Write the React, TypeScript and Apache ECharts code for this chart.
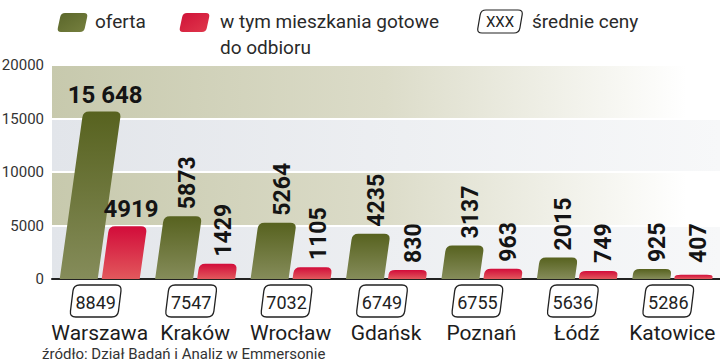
import React, { useEffect, useRef } from "react";
import * as echarts from "echarts";

const cities = ["Warszawa", "Kraków", "Wrocław", "Gdańsk", "Poznań", "Łódź", "Katowice"];
const offers = [15648, 5873, 5264, 4235, 3137, 2015, 925];
const readyFlats = [4919, 1429, 1105, 830, 963, 749, 407];
const avgPrices = [8849, 7547, 7032, 6749, 6755, 5636, 5286];
const yMin = 0;
const yMax = 20000;
const yInterval = 5000;
const legendOffer = "oferta";
const legendReady = ["w tym mieszkania gotowe", "do odbioru"];
const legendBoxSample = "XXX";
const legendPrice = "średnie ceny";
const sourceText = "źródło: Dział Badań i Analiz w Emmersonie";

const FONT = "Roboto, 'Liberation Sans', sans-serif";
const BAR_W = 38;
const HALF_GAP = 2;
const SKEW = 0.14;

function f(n: number) {
  return Math.round(n * 100) / 100;
}

function roundedPolyPath(pts: number[][], radii: number[]): string {
  const n = pts.length;
  let d = "";
  for (let i = 0; i < n; i++) {
    const p = pts[i];
    const prev = pts[(i - 1 + n) % n];
    const next = pts[(i + 1) % n];
    const r = radii[i];
    if (r <= 0) {
      d += (i === 0 ? "M" : "L") + f(p[0]) + " " + f(p[1]) + " ";
      continue;
    }
    const v1x = prev[0] - p[0], v1y = prev[1] - p[1];
    const l1 = Math.hypot(v1x, v1y) || 1;
    const v2x = next[0] - p[0], v2y = next[1] - p[1];
    const l2 = Math.hypot(v2x, v2y) || 1;
    const r1 = Math.min(r, l1 / 2), r2 = Math.min(r, l2 / 2);
    const ax = p[0] + (v1x / l1) * r1, ay = p[1] + (v1y / l1) * r1;
    const bx = p[0] + (v2x / l2) * r2, by = p[1] + (v2y / l2) * r2;
    d += (i === 0 ? "M" : "L") + f(ax) + " " + f(ay) + " Q" + f(p[0]) + " " + f(p[1]) + " " + f(bx) + " " + f(by) + " ";
  }
  return d + "Z";
}

function skewBox(x0: number, yb: number, w: number, h: number, s: number, radii: number[]) {
  return roundedPolyPath(
    [
      [x0, yb],
      [x0 + w, yb],
      [x0 + w + s, yb - h],
      [x0 + s, yb - h],
    ],
    radii
  );
}

echarts.graphic.registerShape(
  "legendSwatch",
  echarts.graphic.extendPath(skewBox(0, 19, 27, 19, 4, [4, 4, 4, 4]), {})
);
echarts.graphic.registerShape(
  "legendPriceBox",
  echarts.graphic.extendPath(skewBox(0, 23, 42, 23, 4, [5, 5, 5, 5]), {})
);

const greenGrad = () =>
  new echarts.graphic.LinearGradient(0, 0, 0, 1, [
    { offset: 0, color: "#57621f" },
    { offset: 1, color: "#858c5a" },
  ]);
const redGrad = () =>
  new echarts.graphic.LinearGradient(0, 0, 0, 1, [
    { offset: 0, color: "#d20c3a" },
    { offset: 1, color: "#e2585c" },
  ]);

function fmtValue(v: number) {
  return v >= 10000 ? String(v).replace(/\B(?=(\d{3})+(?!\d))/g, " ") : String(v);
}

function barRender(side: number, fill: () => any) {
  return (params: any, api: any) => {
    const idx = api.value(0);
    const val = api.value(1);
    const base = api.coord([idx, 0]);
    const top = api.coord([idx, val]);
    const cx = base[0] + side * (BAR_W / 2 + HALF_GAP);
    const h = base[1] - top[1];
    const s = h * SKEW;
    const x0 = cx - BAR_W / 2;
    const d = skewBox(x0, base[1], BAR_W, h, s, [0, 0, 6, 6]);
    const tcx = cx + s;
    const text = fmtValue(val);
    const labelStyle = {
      text,
      fill: "#141414",
      fontFamily: FONT,
      fontWeight: "bold",
    };
    const label =
      idx === 0
        ? {
            type: "text",
            x: tcx + 3,
            y: top[1] - 5,
            style: { ...labelStyle, fontSize: 24, align: "center", verticalAlign: "bottom" },
          }
        : {
            type: "text",
            x: tcx + 5,
            y: Math.min(top[1] - 7, base[1] - 16),
            rotation: Math.PI / 2,
            style: { ...labelStyle, fontSize: 23, align: "left", verticalAlign: "middle" },
          };
    return {
      type: "group",
      children: [{ type: "path", shape: { pathData: d }, style: { fill: fill() } }, label],
    };
  };
}

function priceRender(params: any, api: any) {
  const idx = api.value(0);
  const p = api.value(2);
  const base = api.coord([idx, 0]);
  const cx = base[0] - 4;
  const yt = base[1] + 6;
  const w = 48;
  const h = 32;
  const s = 4;
  const x0 = cx - w / 2 - s / 2;
  const d = skewBox(x0, yt + h, w, h, s, [6, 6, 6, 6]);
  return {
    type: "group",
    children: [
      { type: "path", shape: { pathData: d }, style: { fill: "#fff", stroke: "#222", lineWidth: 1.3 } },
      {
        type: "text",
        x: cx,
        y: yt + h / 2 + 1,
        style: {
          text: String(p),
          fill: "#222",
          fontSize: 18,
          fontFamily: FONT,
          align: "center",
          verticalAlign: "middle",
        },
      },
    ],
  };
}

export default function App() {
  const ref = useRef<HTMLDivElement>(null);
  useEffect(() => {
    if (!ref.current) return;
    const chart = echarts.init(ref.current, null, { renderer: "svg" });
    const oliveBand = new echarts.graphic.LinearGradient(0, 0, 1, 0, [
      { offset: 0, color: "#c7c9ad" },
      { offset: 0.5, color: "#dcdcc9" },
      { offset: 0.95, color: "#ffffff" },
      { offset: 1, color: "#ffffff" },
    ]);
    const grayBand = new echarts.graphic.LinearGradient(0, 0, 1, 0, [
      { offset: 0, color: "#e2e5ea" },
      { offset: 1, color: "#f7f8f9" },
    ]);
    const legendText = { fontSize: 19, fill: "#2a2a2a", fontFamily: FONT, verticalAlign: "middle" };
    const option: any = {
      animation: false,
      textStyle: { fontFamily: FONT },
      grid: { left: 52, right: 0, top: 65, bottom: 84, containLabel: false, outerBoundsMode: "none" },
      xAxis: {
        type: "category",
        data: cities,
        axisLine: { lineStyle: { color: "#222", width: 2 } },
        axisTick: { show: false },
        axisLabel: { fontSize: 21, color: "#1c1c1c", margin: 43, interval: 0, fontFamily: FONT },
        splitLine: { show: false },
      },
      yAxis: {
        type: "value",
        min: yMin,
        max: yMax,
        interval: yInterval,
        axisLine: { show: false },
        axisTick: { show: false },
        axisLabel: {
          fontSize: 15,
          color: "#333",
          margin: 8,
          fontFamily: FONT,
          formatter: (v: number) => String(v),
        },
        splitLine: { show: true, lineStyle: { color: "#ffffff", width: 2 } },
        splitArea: { show: true, areaStyle: { color: [grayBand, oliveBand] } },
      },
      series: [
        {
          name: legendOffer,
          type: "custom",
          clip: false,
          renderItem: barRender(-1, greenGrad),
          data: offers.map((v, i) => [i, v]),
          encode: { x: 0, y: 1 },
          z: 3,
        },
        {
          name: legendReady.join(" "),
          type: "custom",
          clip: false,
          renderItem: barRender(1, redGrad),
          data: readyFlats.map((v, i) => [i, v]),
          encode: { x: 0, y: 1 },
          z: 3,
        },
        {
          name: legendPrice,
          type: "custom",
          clip: false,
          renderItem: priceRender,
          data: avgPrices.map((v, i) => [i, 0, v]),
          encode: { x: 0, y: 1 },
          z: 4,
        },
      ],
      graphic: [
        {
          type: "legendSwatch",
          x: 57,
          y: 13,
          style: {
            fill: new echarts.graphic.LinearGradient(0, 0, 1, 1, [
              { offset: 0, color: "#5a662a" },
              { offset: 1, color: "#76803f" },
            ]),
          },
        },
        { type: "text", x: 95, y: 21, style: { ...legendText, text: legendOffer } },
        {
          type: "legendSwatch",
          x: 179,
          y: 13,
          style: {
            fill: new echarts.graphic.LinearGradient(0, 0, 1, 1, [
              { offset: 0, color: "#cf1238" },
              { offset: 1, color: "#e0384c" },
            ]),
          },
        },
        { type: "text", x: 220, y: 21, style: { ...legendText, text: legendReady[0] } },
        { type: "text", x: 220, y: 47, style: { ...legendText, text: legendReady[1] } },
        {
          type: "legendPriceBox",
          x: 477,
          y: 10,
          style: { fill: "#fff", stroke: "#222", lineWidth: 1.2 },
        },
        {
          type: "text",
          x: 500,
          y: 22,
          style: { ...legendText, text: legendBoxSample, fontSize: 15, align: "center", fill: "#222" },
        },
        { type: "text", x: 532, y: 21, style: { ...legendText, text: legendPrice } },
        {
          type: "text",
          x: 42,
          y: 354,
          style: { ...legendText, text: sourceText, fontSize: 15, fill: "#333" },
        },
      ],
    };
    chart.setOption(option);
    return () => chart.dispose();
  }, []);
  return (
    <div
      ref={ref}
      style={{ position: "fixed", left: 0, top: 0, width: 720, height: 363, background: "#fff" }}
    />
  );
}
